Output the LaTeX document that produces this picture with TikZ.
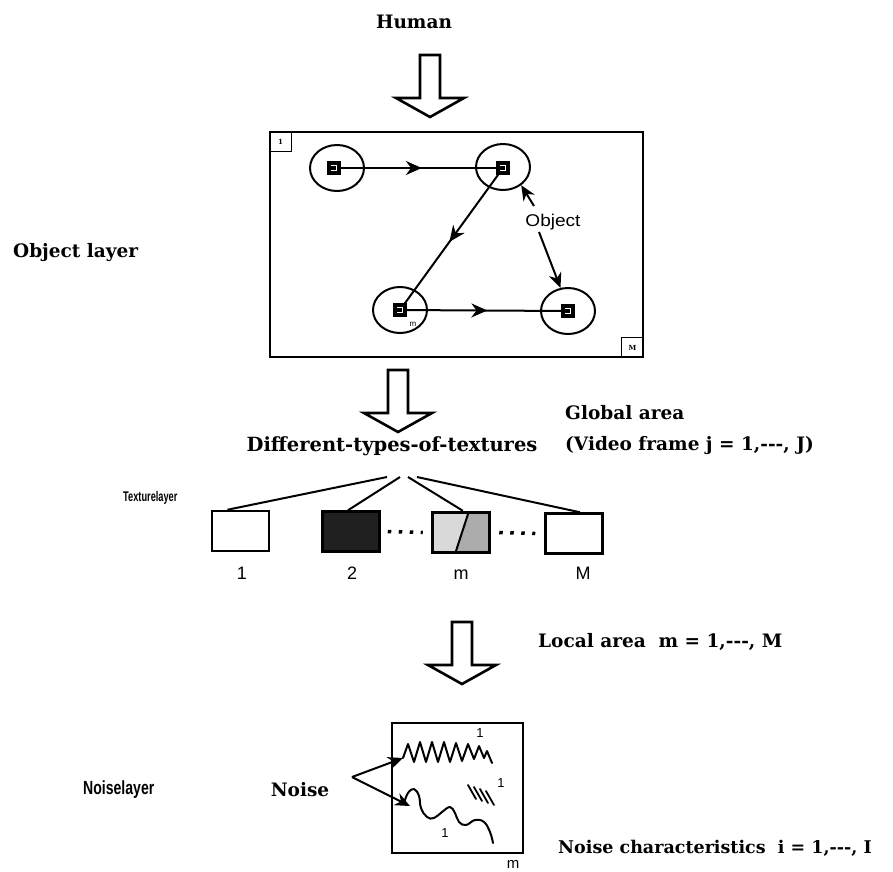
\documentclass[tikz,border=0pt]{standalone}
\usepackage{fontspec}
\setmainfont{DejaVu Serif}
\newfontfamily\sansf{Liberation Sans}
\usetikzlibrary{arrows.meta,decorations.markings,calc,shapes.geometric}
\newcommand{\tdash}{-{}-{}-}
\begin{document}
\begin{tikzpicture}[x=1pt,y=-1pt,
  txt/.style={font=\fontsize{18.5}{20}\selectfont\bfseries, inner sep=0pt},
  sanst/.style={font=\sansf, inner sep=0pt},
  hollow/.style={draw, line width=2.6pt, fill=white, line join=miter},
  harrow/.pic={\draw[hollow] (-10,0) -- (-10,43) -- (-34,43) -- (0,62) -- (34,43) -- (10,43) -- (10,0) -- cycle;},
  frame/.style={draw, line width=2.5pt, inner sep=0pt},
  objcirc/.style={draw, line width=2pt, ellipse, minimum width=54pt, minimum height=46pt, inner sep=0pt},
  objsq/.style={fill=black, minimum size=14pt, inner sep=0pt,
     path picture={\draw[white,line width=1pt] ($(path picture bounding box.center)+(-3,-2.5)$) -- ++(5,0) -- ++(0,5) -- ++(-5,0);}},
  link/.style={line width=2pt, postaction={decorate},
     decoration={markings, mark=at position 0.52 with {\arrow{Stealth[length=16pt,width=14pt]}}}},
  tiparrow/.style={line width=2pt, -{Stealth[length=15pt,width=13pt]}},
  cornerbox/.style={draw, line width=1.5pt, minimum width=22pt, minimum height=20pt, inner sep=0pt, font=\fontsize{7}{7}\selectfont\bfseries},
  texbox/.style={draw, line width=2.5pt, minimum width=57pt, minimum height=40pt, inner sep=0pt},
  fan/.style={line width=2pt},
  dots/.style={line width=3.5pt, dash pattern=on 3.5pt off 7.5pt},
  noiseline/.style={line width=2pt, line join=round, line cap=round},
  numlbl/.style={font=\sansf\fontsize{18}{18}\selectfont, inner sep=0pt, anchor=base}
]
\useasboundingbox (0,0) rectangle (893,871);

% ---- top
\node[txt] (human) at (414,22) {Human};
\pic (ha1) at (430,55) {harrow};

% ---- object layer
\node[txt, anchor=west] (objlayer) at (13,253) {Object layer};
\node[frame, minimum width=373pt, minimum height=225pt] (oframe) at (456.5,244.5) {};
\node[cornerbox, anchor=north west] (c1box) at (oframe.north west) {1};
\node[cornerbox, anchor=south east] (cMbox) at (oframe.south east) {M};

\node[objcirc] (c1) at (337,168) {};
\node[objcirc] (c2) at (503,167) {};
\node[objcirc] (cm) at (400,310) {};
\node[objcirc] (cM) at (568,311) {};

\draw[link] (334,168) coordinate (p1) -- (503,168) coordinate (p2);
\draw[link] (p2) -- (400,310) coordinate (pm);
\draw[link] (pm) -- (568,311) coordinate (pM);

\node[objsq] (s1) at (p1) {};
\node[objsq] (s2) at (p2) {};
\node[objsq] (sm) at (pm) {};
\node[objsq] (sM) at (pM) {};
\node[font=\sansf\fontsize{8}{8}\selectfont, inner sep=0pt] (smlbl) at (413,324) {m};

\node[sanst, font=\sansf\fontsize{17}{17}\selectfont] (object) at (553,222) {\scalebox{1.12}[1]{Object}};
\coordinate (oa) at (534,206);
\coordinate (ob) at (539,232);
\draw[tiparrow] (oa) -- (c2.-45);
\draw[tiparrow] (ob) -- (cM.108);

% ---- texture layer
\pic (ha2) at (398,370) {harrow};
\node[txt] (diff) at (392,446) {\fontsize{19.5}{21}\selectfont Different-types-of-textures};
\node[txt, anchor=west] (global) at (565,413) {Global area};
\node[txt, anchor=west] (video) at (565,446) {(Video frame j = 1,\tdash, J)};

\node[anchor=west, font=\sansf\bfseries\fontsize{14}{14}\selectfont, inner sep=0pt] (texlayer) at (123,498) {\scalebox{0.66}[1]{Texturelayer}};

\node[texbox] (b1) at (240.5,531) {};
\node[texbox, fill={rgb,255:red,32;green,32;blue,32}] (b2) at (351,531.5) {};
\node[texbox, line width=3.5pt,
  path picture={
    \fill[gray!30] (path picture bounding box.north west) -- ($(path picture bounding box.north west)+(36,0)$) -- ($(path picture bounding box.south west)+(23,0)$) -- (path picture bounding box.south west) -- cycle;
    \fill[gray!65] ($(path picture bounding box.north west)+(36,0)$) -- (path picture bounding box.north east) -- (path picture bounding box.south east) -- ($(path picture bounding box.south west)+(23,0)$) -- cycle;
    \draw[line width=2pt] ($(path picture bounding box.north west)+(36,0)$) -- ($(path picture bounding box.south west)+(23,0)$);
  }] (bm) at (461,532.5) {};
\node[texbox] (bM) at (574,533.5) {};

\coordinate (f1) at (387,477);
\coordinate (f2) at (400,477);
\coordinate (f3) at (408,477);
\coordinate (f4) at (417,477);
\draw[fan] (f1) -- ($(b1.north west)!0.28!(b1.north east)$);
\draw[fan] (f2) -- ($(b2.north west)!0.45!(b2.north east)$);
\draw[fan] (f3) -- ($(bm.north west)!0.53!(bm.north east)$);
\draw[fan] (f4) -- ($(bM.north west)!0.6!(bM.north east)$);

\draw[dots] ($(b2.east)+(7,0)$) -- ($(bm.west)+(-8,0)$);
\draw[dots] ($(bm.east)+(8,0)$) -- ($(bM.west)+(-9,0)$);

\node[numlbl] (n1) at (242,579) {1};
\node[numlbl] (n2) at (352,579) {2};
\node[numlbl] (nm) at (461,579) {m};
\node[numlbl] (nM) at (583,579) {M};

% ---- noise layer
\pic (ha3) at (462,622) {harrow};
\node[txt, anchor=west] (local) at (538,642) {Local area~~m = 1,\tdash, M};

\node[anchor=west, font=\sansf\bfseries\fontsize{19}{19}\selectfont, inner sep=0pt] (noiselayer) at (83,790) {\scalebox{0.74}[1]{Noiselayer}};
\node[txt] (noise) at (300,790) {Noise};

\node[frame, line width=2.8pt, minimum width=131pt, minimum height=130pt] (nbox) at (457.5,788) {};
\node[font=\sansf\fontsize{15}{15}\selectfont, inner sep=0pt, anchor=base] (nboxm) at (513,868) {m};
\node[txt, anchor=west, font=\fontsize{17.5}{19}\selectfont\bfseries] (nchar) at (558,848) {Noise characteristics~~i = 1,\tdash, I};

\draw[noiseline] (403,758) -- (408,744) -- (414,762) -- (420,742) -- (426,762) -- (432,742) -- (438,762) -- (444,742) -- (450,762) -- (456,743) -- (462,761) -- (468,744) -- (474,759) -- (479,746) -- (484,758) -- (487,751) -- (492,763);
\draw[noiseline] plot[smooth, tension=0.7] coordinates {(404,803) (408,793) (414,789) (419,796) (421,808) (427,817) (434,818) (442,812) (450,807) (455,813) (459,822) (466,825) (475,820) (484,822) (490,832) (493,843)};
\draw[noiseline, line width=1.8pt] (468,785) -- (476,799);
\draw[noiseline, line width=1.8pt] (474,787) -- (482,801);
\draw[noiseline, line width=1.8pt] (480,789) -- (488,803);
\draw[noiseline, line width=1.8pt] (486,791) -- (494,805);

\node[font=\sansf\fontsize{13}{13}\selectfont, inner sep=0pt] (l1) at (480,733) {1};
\node[font=\sansf\fontsize{13}{13}\selectfont, inner sep=0pt] (l2) at (501,783) {1};
\node[font=\sansf\fontsize{13}{13}\selectfont, inner sep=0pt] (l3) at (445,833) {1};

\coordinate (napex) at (352,777);
\coordinate (zigstart) at (403,758);
\coordinate (wavestart) at (410,806);
\draw[tiparrow] (napex) -- (zigstart);
\draw[tiparrow] (napex) -- (wavestart);
\end{tikzpicture}
\end{document}
